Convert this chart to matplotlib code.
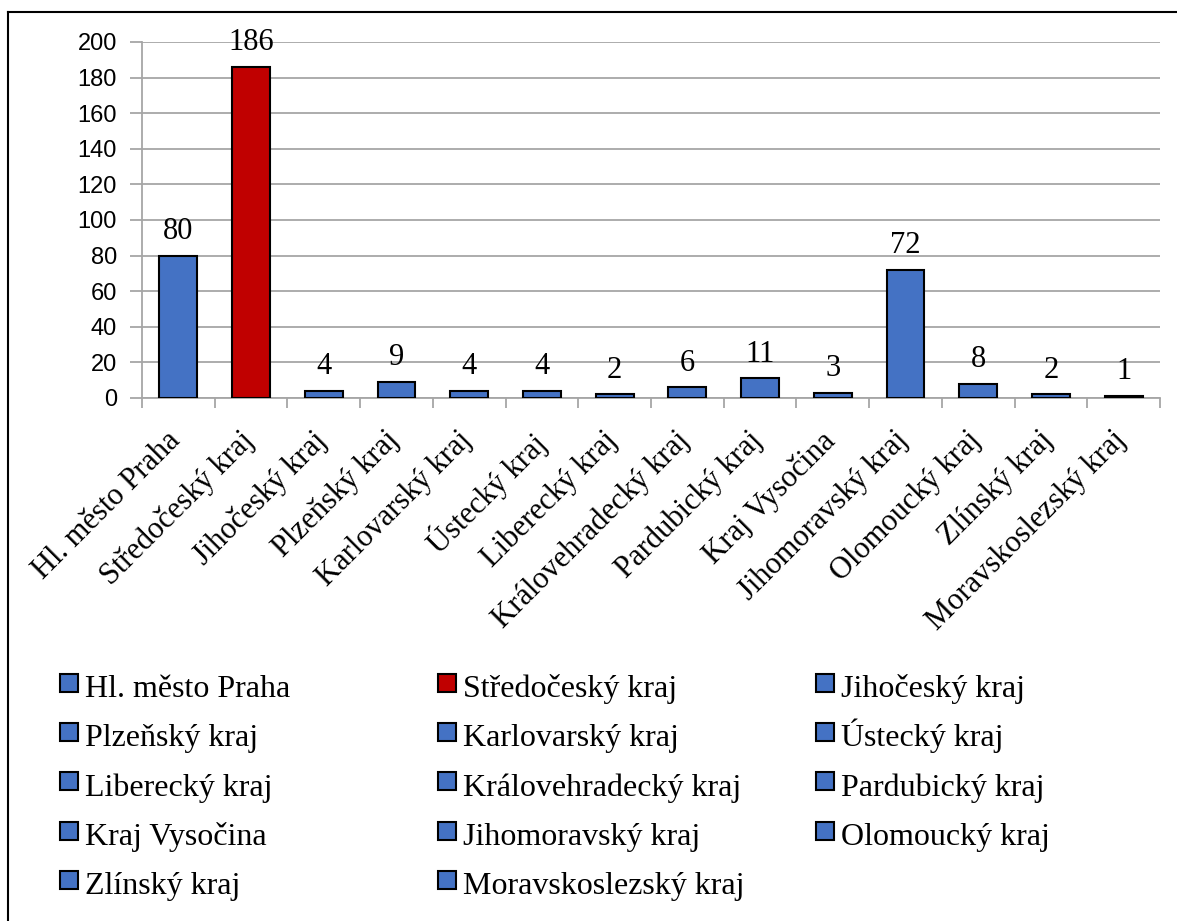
import matplotlib
matplotlib.use("Agg")
import matplotlib.pyplot as plt
import matplotlib.transforms as mtransforms
from matplotlib.lines import Line2D
from matplotlib.legend_handler import HandlerLine2D
import numpy as np

# datos
kraje = ["Hl. město Praha", "Středočeský kraj", "Jihočeský kraj", "Plzeňský kraj",
         "Karlovarský kraj", "Ústecký kraj", "Liberecký kraj", "Královehradecký kraj",
         "Pardubický kraj", "Kraj Vysočina", "Jihomoravský kraj", "Olomoucký kraj",
         "Zlínský kraj", "Moravskoslezský kraj"]
pocty = [80, 186, 4, 9, 4, 4, 2, 6, 11, 3, 72, 8, 2, 1]
barvy = ["#4472C4", "#C00000"] + ["#4472C4"] * 12

serif = "Liberation Serif"
sans = "Liberation Sans"
grid_c = "#A6A6A6"

fig = plt.figure(figsize=(11.77, 9.21), dpi=100)
ax = fig.add_axes([142/1177, 1-398/921, (1160-142)/1177, (398-42)/921])

x = np.arange(len(kraje))
ax.bar(x, pocty, width=0.52, color=barvy, edgecolor="black", linewidth=1.5, zorder=3)
for xi, v in zip(x, pocty):
    ax.annotate(str(v), (xi, v), xytext=(0, 7), textcoords="offset points",
                ha="center", va="bottom", fontsize=22, family=serif)

ax.set_xlim(-0.5, len(kraje) - 0.5)
ax.set_ylim(0, 200)
ax.set_yticks(range(0, 201, 20))
ax.yaxis.grid(True, color=grid_c, linewidth=1.3, zorder=0)
ax.set_axisbelow(True)
for s in ["top", "right"]:
    ax.spines[s].set_visible(False)
for s in ["left", "bottom"]:
    ax.spines[s].set_color(grid_c)
    ax.spines[s].set_linewidth(1.3)

ax.tick_params(axis="y", length=9, color=grid_c, width=1.3, labelsize=17, pad=9)
for t in ax.get_yticklabels():
    t.set_family(sans)
ax.set_xticks(x)
ax.set_xticklabels(kraje, rotation=45, ha="right", va="top", rotation_mode="anchor",
                   fontsize=22, family=serif)
ax.tick_params(axis="x", which="major", length=0, pad=20)
posun = mtransforms.ScaledTranslation(-9/72, 0, fig.dpi_scale_trans)
for t in ax.get_xticklabels():
    t.set_transform(t.get_transform() + posun)
ax.set_xticks(np.arange(-0.5, len(kraje), 1), minor=True)
ax.tick_params(axis="x", which="minor", length=7, color=grid_c, width=1.3)

# legenda - tri sloupce
handles = [Line2D([], [], marker="s", linestyle="none", markersize=13,
                  markerfacecolor=c, markeredgecolor="black", markeredgewidth=1.5)
           for c in barvy]
col_x = [59, 437, 815]
for k in range(3):
    idx = list(range(k, len(kraje), 3))
    fig.legend([handles[i] for i in idx], [kraje[i] for i in idx],
               loc="upper left", bbox_to_anchor=(col_x[k]/1177, 1-668/921),
               frameon=False, prop={"family": serif, "size": 23},
               handler_map={Line2D: HandlerLine2D(ypad=0.55)},
               handlelength=0.65, handleheight=1.4, handletextpad=0.15,
               labelspacing=0.39, borderpad=0, borderaxespad=0)

# ramecek
fig.add_artist(Line2D([8/1177, 8/1177], [0, 1-12/921], color="black", lw=1.5))
fig.add_artist(Line2D([8/1177, 1], [1-12/921, 1-12/921], color="black", lw=1.5))

fig.savefig("out.png", dpi=100)
